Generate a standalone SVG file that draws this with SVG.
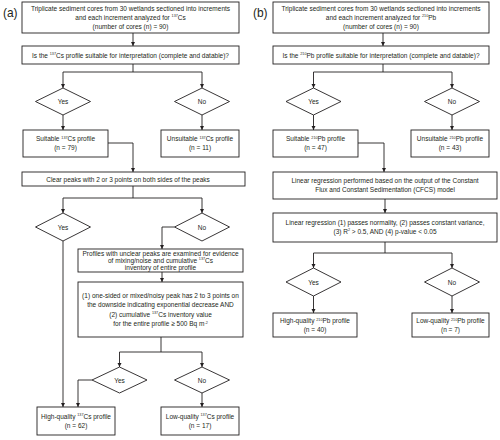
<svg xmlns="http://www.w3.org/2000/svg" width="500" height="440" viewBox="0 0 500 440">
<style>
.b{fill:#fff;stroke:#231f20;stroke-width:0.9}
.t{font-family:"Liberation Sans",Arial,sans-serif;font-size:7.5px;fill:#231f20;text-anchor:middle}
.s{font-size:4.3px}
.lab{font-family:"Liberation Sans",Arial,sans-serif;font-size:13px;fill:#231f20}
.c{fill:none;stroke:#231f20;stroke-width:0.9}
.a{marker-end:url(#ah)}
</style>
<defs>
<marker id="ah" viewBox="0 0 10 10" refX="10" refY="5" markerWidth="4.5" markerHeight="4.5" markerUnits="userSpaceOnUse" orient="auto">
<path d="M0,0 L10,5 L0,10 z" fill="#231f20"/>
</marker>
</defs>
<text class="lab" x="3" y="17" transform="translate(3 0) scale(0.92 1) translate(-3 0)">(a)</text>
<text class="lab" x="253" y="17" transform="translate(253 0) scale(0.92 1) translate(-253 0)">(b)</text>
<g id="connectors">
<path class="c a" d="M133,33 V46"/>
<path class="c" d="M133,64 V72 M63,72 H202"/>
<path class="c a" d="M63,72 V88"/>
<path class="c a" d="M202,72 V88"/>
<path class="c a" d="M63,115 V130"/>
<path class="c a" d="M202,115 V130"/>
<path class="c a" d="M108,143 H133 V172"/>
<path class="c" d="M133,186 V198 M63,198 H202"/>
<path class="c a" d="M63,198 V213"/>
<path class="c a" d="M202,198 V213"/>
<path class="c a" d="M63,241 V407"/>
<path class="c a" d="M174.5,227 H162 V249"/>
<path class="c a" d="M162,272 V282"/>
<path class="c" d="M161,337 V352 M119.5,352 H202"/>
<path class="c a" d="M119.5,352 V367"/>
<path class="c a" d="M202,352 V367"/>
<path class="c a" d="M92,380 H78 V407"/>
<path class="c a" d="M202,393 V407"/>
<path class="c a" d="M383,33 V46"/>
<path class="c" d="M383,64 V72 M313.5,72 H452"/>
<path class="c a" d="M313.5,72 V88"/>
<path class="c a" d="M452,72 V88"/>
<path class="c a" d="M313.5,115 V130"/>
<path class="c a" d="M452,115 V130"/>
<path class="c a" d="M358,143 H384 V172"/>
<path class="c a" d="M385,199 V213"/>
<path class="c" d="M385,242 V253 M313.5,253 H452"/>
<path class="c a" d="M313.5,253 V268"/>
<path class="c a" d="M452,253 V268"/>
<path class="c a" d="M313.5,296 V313"/>
<path class="c a" d="M452,296 V313"/>
</g>
<g id="a-start">
<rect class="b" x="22" y="2" width="217" height="31"/>
<g transform="translate(130.5 0) scale(0.87 1)">
<text class="t" x="0" y="11">Triplicate sediment cores from 30 wetlands sectioned into increments</text>
<text class="t" x="0" y="20">and each increment analyzed for <tspan class="s" dy="-2.7">137</tspan><tspan dy="2.7">Cs</tspan></text>
<text class="t" x="0" y="29">(number of cores (n) = 90)</text>
</g>
</g>
<g id="a-q1">
<rect class="b" x="22" y="46" width="217" height="18"/>
<g transform="translate(130.5 0) scale(0.87 1)">
<text class="t" x="0" y="57.6">Is the <tspan class="s" dy="-2.7">137</tspan><tspan dy="2.7">Cs profile suitable for interpretation (complete and datable)?</tspan></text>
</g>
</g>
<g id="a-yes1"><polygon class="b" points="35.5,101.5 63,88 90.5,101.5 63,115"/><text class="t" x="63" y="104.2" transform="translate(63 0) scale(0.87 1) translate(-63 0)">Yes</text></g>
<g id="a-no1"><polygon class="b" points="174.5,101.5 202,88 229.5,101.5 202,115"/><text class="t" x="202" y="104.2" transform="translate(202 0) scale(0.87 1) translate(-202 0)">No</text></g>
<g id="a-suitable">
<rect class="b" x="23" y="130" width="85" height="27"/>
<g transform="translate(65.5 0) scale(0.87 1)">
<text class="t" x="0" y="141.5">Suitable <tspan class="s" dy="-2.7">137</tspan><tspan dy="2.7">Cs profile</tspan></text>
<text class="t" x="0" y="150.5">(n = 79)</text>
</g>
</g>
<g id="a-unsuitable">
<rect class="b" x="161" y="130" width="78" height="27"/>
<g transform="translate(200 0) scale(0.87 1)">
<text class="t" x="0" y="141.5">Unsuitable <tspan class="s" dy="-2.7">137</tspan><tspan dy="2.7">Cs profile</tspan></text>
<text class="t" x="0" y="150.5">(n = 11)</text>
</g>
</g>
<g id="a-clear">
<rect class="b" x="22" y="172" width="223" height="14"/>
<g transform="translate(128 0) scale(0.87 1)">
<text class="t" x="0" y="181.7">Clear peaks with 2 or 3 points on both sides of the peaks</text>
</g>
</g>
<g id="a-yes2"><polygon class="b" points="35.5,227 63,213 90.5,227 63,241"/><text class="t" x="63" y="229.7" transform="translate(63 0) scale(0.87 1) translate(-63 0)">Yes</text></g>
<g id="a-no2"><polygon class="b" points="174.5,227 202,213 229.5,227 202,241"/><text class="t" x="202" y="229.7" transform="translate(202 0) scale(0.87 1) translate(-202 0)">No</text></g>
<g id="a-profiles">
<rect class="b" x="78" y="249" width="165" height="23"/>
<g transform="translate(160.5 0) scale(0.87 1)">
<text class="t" x="0" y="256">Profiles with unclear peaks are examined for evidence</text>
<text class="t" x="0" y="263">of mixing/noise and cumulative <tspan class="s" dy="-2.7">137</tspan><tspan dy="2.7">Cs</tspan></text>
<text class="t" x="0" y="270">inventory of entire profile</text>
</g>
</g>
<g id="a-criteria">
<rect class="b" x="78" y="282" width="165" height="55"/>
<g transform="translate(160.5 0) scale(0.87 1)">
<text class="t" x="0" y="298">(1) one-sided or mixed/noisy peak has 2 to 3 points on</text>
<text class="t" x="0" y="307.5">the downside indicating exponential decrease AND</text>
<text class="t" x="0" y="317">(2) cumulative <tspan class="s" dy="-2.7">137</tspan><tspan dy="2.7">Cs inventory value</tspan></text>
<text class="t" x="0" y="326.5">for the entire profile ≥ 500 Bq m<tspan class="s" dy="-2.7">-2</tspan></text>
</g>
</g>
<g id="a-yes3"><polygon class="b" points="92,380 119.5,367 147,380 119.5,393"/><text class="t" x="119.5" y="382.7" transform="translate(119.5 0) scale(0.87 1) translate(-119.5 0)">Yes</text></g>
<g id="a-no3"><polygon class="b" points="174.5,380 202,367 229.5,380 202,393"/><text class="t" x="202" y="382.7" transform="translate(202 0) scale(0.87 1) translate(-202 0)">No</text></g>
<g id="a-high">
<rect class="b" x="37" y="407" width="78" height="28"/>
<g transform="translate(76 0) scale(0.87 1)">
<text class="t" x="0" y="419">High-quality <tspan class="s" dy="-2.7">137</tspan><tspan dy="2.7">Cs profile</tspan></text>
<text class="t" x="0" y="428">(n = 62)</text>
</g>
</g>
<g id="a-low">
<rect class="b" x="161" y="407" width="78" height="28"/>
<g transform="translate(200 0) scale(0.87 1)">
<text class="t" x="0" y="419">Low-quality <tspan class="s" dy="-2.7">137</tspan><tspan dy="2.7">Cs profile</tspan></text>
<text class="t" x="0" y="428">(n = 17)</text>
</g>
</g>
<g id="b-start">
<rect class="b" x="273" y="2" width="216" height="31"/>
<g transform="translate(381 0) scale(0.87 1)">
<text class="t" x="0" y="11">Triplicate sediment cores from 30 wetlands sectioned into increments</text>
<text class="t" x="0" y="20">and each increment analyzed for <tspan class="s" dy="-2.7">210</tspan><tspan dy="2.7">Pb</tspan></text>
<text class="t" x="0" y="29">(number of cores (n) = 90)</text>
</g>
</g>
<g id="b-q1">
<rect class="b" x="273" y="46" width="216" height="18"/>
<g transform="translate(381 0) scale(0.87 1)">
<text class="t" x="0" y="57.6">Is the <tspan class="s" dy="-2.7">210</tspan><tspan dy="2.7">Pb profile suitable for interpretation (complete and datable)?</tspan></text>
</g>
</g>
<g id="b-yes1"><polygon class="b" points="286,101.5 313.5,88 341,101.5 313.5,115"/><text class="t" x="313.5" y="104.2" transform="translate(313.5 0) scale(0.87 1) translate(-313.5 0)">Yes</text></g>
<g id="b-no1"><polygon class="b" points="424.5,101.5 452,88 479.5,101.5 452,115"/><text class="t" x="452" y="104.2" transform="translate(452 0) scale(0.87 1) translate(-452 0)">No</text></g>
<g id="b-suitable">
<rect class="b" x="273" y="130" width="85" height="27"/>
<g transform="translate(315.5 0) scale(0.87 1)">
<text class="t" x="0" y="141.5">Suitable <tspan class="s" dy="-2.7">210</tspan><tspan dy="2.7">Pb profile</tspan></text>
<text class="t" x="0" y="150.5">(n = 47)</text>
</g>
</g>
<g id="b-unsuitable">
<rect class="b" x="411" y="130" width="78" height="27"/>
<g transform="translate(450 0) scale(0.87 1)">
<text class="t" x="0" y="141.5">Unsuitable <tspan class="s" dy="-2.7">210</tspan><tspan dy="2.7">Pb profile</tspan></text>
<text class="t" x="0" y="150.5">(n = 43)</text>
</g>
</g>
<g id="b-cfcs">
<rect class="b" x="273" y="172" width="224" height="27"/>
<g transform="translate(385 0) scale(0.87 1)">
<text class="t" x="0" y="183.2">Linear regression performed based on the output of the Constant</text>
<text class="t" x="0" y="192.2">Flux and Constant Sedimentation (CFCS) model</text>
</g>
</g>
<g id="b-criteria">
<rect class="b" x="273" y="213" width="224" height="29"/>
<g transform="translate(385 0) scale(0.87 1)">
<text class="t" x="0" y="225">Linear regression (1) passes normality, (2) passes constant variance,</text>
<text class="t" x="0" y="234.2">(3) R<tspan class="s" dy="-2.7">2</tspan><tspan dy="2.7"> &gt; 0.5, AND (4) p-value &lt; 0.05</tspan></text>
</g>
</g>
<g id="b-yes2"><polygon class="b" points="286,282 313.5,268 341,282 313.5,296"/><text class="t" x="313.5" y="284.7" transform="translate(313.5 0) scale(0.87 1) translate(-313.5 0)">Yes</text></g>
<g id="b-no2"><polygon class="b" points="424.5,282 452,268 479.5,282 452,296"/><text class="t" x="452" y="284.7" transform="translate(452 0) scale(0.87 1) translate(-452 0)">No</text></g>
<g id="b-high">
<rect class="b" x="273" y="313" width="84" height="24"/>
<g transform="translate(315 0) scale(0.87 1)">
<text class="t" x="0" y="323.5">High-quality <tspan class="s" dy="-2.7">210</tspan><tspan dy="2.7">Pb profile</tspan></text>
<text class="t" x="0" y="332.3">(n = 40)</text>
</g>
</g>
<g id="b-low">
<rect class="b" x="412" y="313" width="77" height="24"/>
<g transform="translate(450.5 0) scale(0.87 1)">
<text class="t" x="0" y="323.5">Low-quality <tspan class="s" dy="-2.7">210</tspan><tspan dy="2.7">Pb profile</tspan></text>
<text class="t" x="0" y="332.3">(n = 7)</text>
</g>
</g>
</svg>
